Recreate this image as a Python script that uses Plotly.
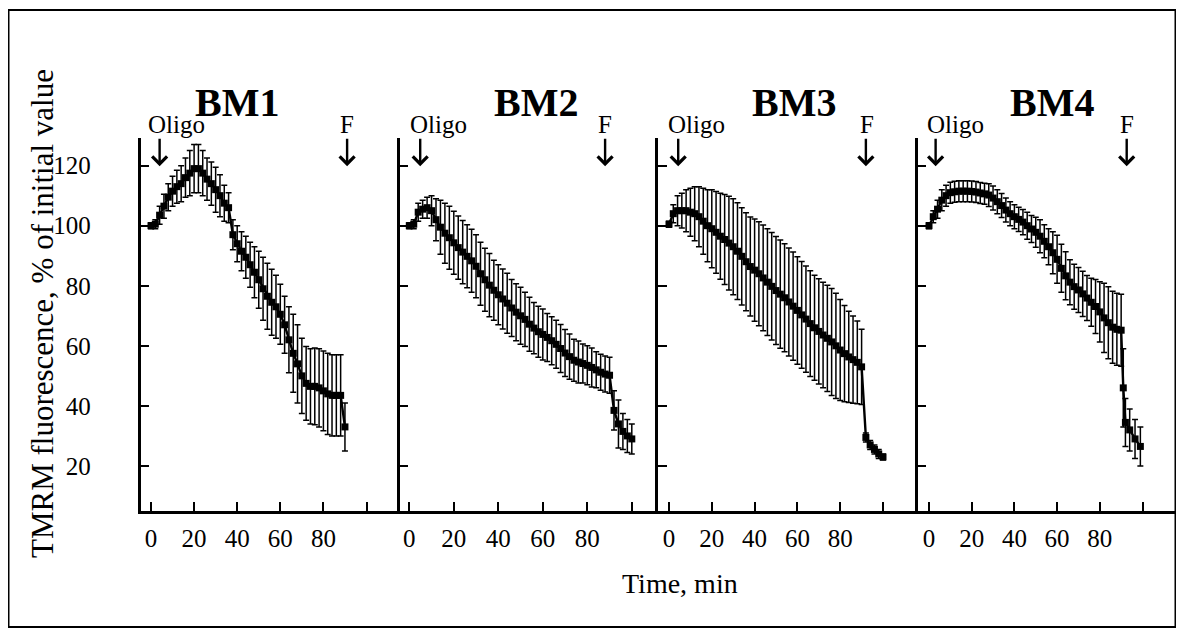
import plotly.graph_objects as go

# page body adds an 8px margin, so coordinates are shifted by 8
OFF = 8
W, H = 1172, 624

# ---------------- data ----------------
panel_titles = ["BM1", "BM2", "BM3", "BM4"]

t1 = [0, 2, 4, 6, 8, 10, 12, 14, 16, 18, 20, 22, 24, 26, 28, 30, 32, 34, 36, 38, 40, 42, 44, 46,
      48, 50, 52, 54, 56, 58, 60, 62, 64, 66, 68, 70, 72, 74, 76, 78, 80, 82, 84, 86, 88, 90]
v1 = [100, 100.5, 103.5, 106.5, 109.5, 111.5, 113, 114, 116, 117.5, 119, 119, 117.5, 115.5, 114, 112,
      110, 107.5, 106, 97, 94, 91.5, 89.5, 87, 84.5, 82, 79, 76.5, 74.5, 73, 70.5, 67, 62, 57.5, 54,
      50, 47.5, 46.5, 46.5, 46, 45, 44, 43.5, 43.5, 43.5, 33]
e1 = [1, 1.5, 3, 4, 4.5, 5, 5.5, 6, 6.5, 7.5, 8, 8, 7.5, 7, 7.2, 7.5, 7, 6, 5, 5, 6, 6.5, 7, 7.5,
      8.5, 9.5, 10.5, 11, 11, 10.5, 10, 9.5, 11, 13, 13, 12.5, 12.3, 12.5, 12.8, 13, 13.3, 13.5,
      13.5, 13.5, 13.5, 8]

t2 = [0, 2, 4, 6, 8, 10, 12, 14, 16, 18, 20, 22, 24, 26, 28, 30, 32, 34, 36, 38, 40, 42, 44, 46,
      48, 50, 52, 54, 56, 58, 60, 62, 64, 66, 68, 70, 72, 74, 76, 78, 80, 82, 84, 86, 88, 90,
      92, 94, 96, 98, 100]
v2 = [100, 100.5, 104.5, 105.5, 106, 105, 102, 99.5, 97.5, 96, 94.3, 92.7, 91.2, 89.8, 88.3, 86.5,
      84, 82, 80.2, 78.5, 77, 75.6, 74.2, 72.6, 71.2, 70, 68.8, 67.2, 65.9, 64.7, 63.8, 62.8, 61.7,
      60.5, 59.1, 57.6, 56.4, 55.2, 54.6, 54.1, 53.5, 52.8, 52, 51.2, 50.6, 50.2, 38.5, 34, 31.5,
      30, 29]
e2 = [1, 1.5, 3, 3, 3.5, 5, 7, 9, 10, 10.5, 10.5, 10.5, 10.5, 10.5, 10.5, 10.5, 10.5, 10.5, 10.5,
      10, 10, 10, 10, 9.5, 9.5, 9.5, 9, 9, 8.5, 8.5, 8.5, 8, 8, 8, 8, 7.8, 7.5, 7, 7, 6.5, 6.5,
      6.5, 6, 6, 6, 6, 6.5, 8, 6, 5.5, 5]

t3 = [0, 2, 4, 6, 8, 10, 12, 14, 16, 18, 20, 22, 24, 26, 28, 30, 32, 34, 36, 38, 40, 42, 44, 46,
      48, 50, 52, 54, 56, 58, 60, 62, 64, 66, 68, 70, 72, 74, 76, 78, 80, 82, 84, 86, 88, 90,
      92, 94, 96, 98, 100]
v3 = [100.5, 104, 105, 105, 105, 104.5, 104, 103, 101.5, 100, 99, 97.8, 96.5, 95.4, 94.2, 93, 91.5,
      89.8, 88, 86.4, 85.2, 84, 82.6, 81.2, 79.8, 78.4, 77.2, 76, 74.6, 73.2, 71.8, 70.3, 68.9,
      67.4, 66, 64.8, 63.6, 62.5, 61.3, 60, 58.6, 57.4, 56.3, 55.4, 54.5, 53, 29.5, 27, 25.5, 24, 23]
e3 = [1, 3, 5, 5.8, 7, 8, 9, 10, 11, 12, 13, 13.6, 14.3, 15, 15.6, 16, 16.1, 16.2, 16.3, 16.5, 17,
      17.3, 17.6, 17.8, 17.9, 18, 18, 18, 18, 18, 17.9, 17.8, 17.7, 17.6, 17.5, 17.5, 17.6, 17.7,
      17.8, 17.5, 16.8, 16, 15.2, 14.5, 13.8, 12.5, 1.5, 1.5, 1.5, 1.5, 1]

t4 = [0, 2, 4, 6, 8, 10, 12, 14, 16, 18, 20, 22, 24, 26, 28, 30, 32, 34, 36, 38, 40, 42, 44, 46,
      48, 50, 52, 54, 56, 58, 60, 62, 64, 66, 68, 70, 72, 74, 76, 78, 80, 82, 84, 86, 88, 90,
      91, 92, 94, 96.5, 99]
v4 = [100, 103, 105.5, 108.5, 110, 111, 111.3, 111.5, 111.5, 111.5, 111.4, 111.2, 110.9, 110.6,
      110.2, 109.2, 108, 106.7, 105.2, 104, 103, 102.1, 101.2, 100, 98.9, 97.8, 96.5, 94.8, 93, 91,
      88.8, 85.8, 83.3, 81.2, 79.7, 78.6, 77.3, 75.9, 74.5, 73.1, 71.3, 69.3, 67.7, 66.2, 65.5,
      65.2, 46, 34.5, 32, 29, 26.5]
e4 = [1, 2, 3, 3.5, 3.5, 3.5, 3.5, 3.5, 3.5, 3.5, 3.5, 3.5, 3.5, 3.5, 3.8, 4, 4, 4, 4, 4, 4, 4,
      4.2, 4.5, 4.5, 5, 5.5, 5.5, 6, 7, 8, 8, 8, 7.5, 7.5, 7.5, 7.5, 7.5, 8, 9, 10, 11.5, 12, 12,
      12, 12, 13, 8, 7, 6.5, 6.5]

oligo_t = [4, 4.9, 4.3, 3.1]
f_t = [91, 88, 92, 92.6]
oligo_label_t = [12, 12.9, 12.9, 12.2]
f_label_t = [91, 88, 92.4, 92.6]

x_ticks = [0, 20, 40, 60, 80, 100]
x_tick_text = ["0", "20", "40", "60", "80", ""]
y_ticks = [20, 40, 60, 80, 100, 120]

# ---------------- layout geometry (screen pixels) ----------------
# axis line px, px of t=0, px per minute, right end px
geom = [(140.5, 151.0, 2.155, 399.0),
        (399.5, 409.3, 2.225, 658.0),
        (658.0, 669.0, 2.14, 917.0),
        (917.5, 929.0, 2.135, 1176.5)]
y_top_px, y_bot_px = 138.0, 511.0
y_range = [5.0, 129.2]

FONT = "Liberation Serif"


def px_x(px):
    return (px - OFF) / W


def px_y(py):
    return 1 - (py - OFF) / H


series = [(t1, v1, e1), (t2, v2, e2), (t3, v3, e3), (t4, v4, e4)]

fig = go.Figure()
layout = dict(
    width=W, height=H,
    margin=dict(l=0, r=0, t=0, b=0),
    paper_bgcolor="white", plot_bgcolor="white",
    showlegend=False,
    font=dict(family=FONT, color="black", size=25),
)

annotations = []
for i, ((t, v, e), (ax_px, t0_px, ppm, right_px)) in enumerate(zip(series, geom)):
    n = "" if i == 0 else str(i + 1)
    xa, ya = "x" + n, "y" + n
    fig.add_trace(go.Scatter(
        x=t, y=v, xaxis=xa, yaxis=ya, mode="lines+markers",
        line=dict(color="black", width=2.4),
        marker=dict(symbol="square", size=7, color="black"),
        error_y=dict(type="data", array=e, visible=True, color="black", thickness=1.5, width=3),
        cliponaxis=False,
    ))
    xmin = (ax_px - t0_px) / ppm
    xmax = (right_px - t0_px) / ppm
    layout["xaxis" + n] = dict(
        domain=[px_x(ax_px), px_x(right_px)], range=[xmin, xmax], anchor=ya,
        showline=True, linecolor="black", linewidth=2.5, mirror=False,
        ticks="inside", ticklen=9, tickwidth=2, tickcolor="black",
        tickvals=x_ticks, ticktext=x_tick_text, tickfont=dict(size=25, family=FONT),
        ticklabelstandoff=3,
        showgrid=False, zeroline=False, fixedrange=True,
    )
    layout["yaxis" + n] = dict(
        domain=[px_y(y_bot_px), px_y(y_top_px)], range=y_range, anchor=xa,
        showline=True, linecolor="black", linewidth=2.5,
        ticks="inside", ticklen=9, tickwidth=2, tickcolor="black",
        tickvals=y_ticks, showticklabels=(i == 0), tickfont=dict(size=25, family=FONT),
        ticklabelstandoff=42,
        showgrid=False, zeroline=False, fixedrange=True,
    )
    # Oligo / F labels and arrows
    annotations.append(dict(x=oligo_label_t[i], y=px_y(124), xref=xa, yref="paper", text="Oligo",
                            showarrow=False, font=dict(size=25, family=FONT), yanchor="middle"))
    annotations.append(dict(x=f_label_t[i], y=px_y(124), xref=xa, yref="paper", text="F",
                            showarrow=False, font=dict(size=25, family=FONT), yanchor="middle"))
    for at in (oligo_t[i], f_t[i]):
        annotations.append(dict(x=at, y=119.8, xref=xa, yref=ya, text="", showarrow=True,
                                ax=0, ay=-29, axref="pixel", ayref="pixel",
                                arrowhead=4, arrowsize=1.2, arrowwidth=2.4, arrowcolor="black"))

# panel titles
title_px = [237, 536, 794, 1052]
for name, px in zip(panel_titles, title_px):
    annotations.append(dict(x=px_x(px), y=px_y(102), xref="paper", yref="paper", text="<b>%s</b>" % name,
                            showarrow=False, font=dict(size=40, family=FONT),
                            xanchor="center", yanchor="middle"))

# axis titles
annotations.append(dict(x=px_x(680), y=px_y(583), xref="paper", yref="paper", text="Time, min",
                        showarrow=False, font=dict(size=28, family=FONT),
                        xanchor="center", yanchor="middle"))
annotations.append(dict(x=px_x(42), y=px_y(314), xref="paper", yref="paper",
                        text="TMRM fluorescence, % of initial value", textangle=-90,
                        showarrow=False, font=dict(size=31, family=FONT),
                        xanchor="center", yanchor="middle"))

layout["annotations"] = annotations
layout["shapes"] = [dict(type="rect", xref="paper", yref="paper",
                         x0=px_x(8.5), x1=px_x(1175.5), y0=px_y(627), y1=px_y(10),
                         line=dict(color="black", width=2), fillcolor="rgba(0,0,0,0)", layer="above")]
fig.update_layout(**layout)
fig.write_html("out.html")
